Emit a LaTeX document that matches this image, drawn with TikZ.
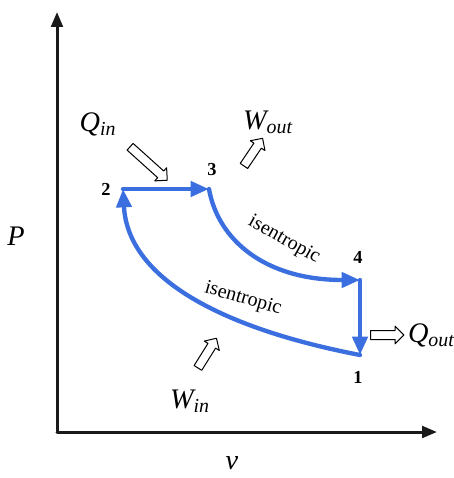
\documentclass[tikz,border=0pt]{standalone}
\usepackage{fontspec}
\setmainfont{Liberation Serif}
\usetikzlibrary{arrows.meta,shapes.arrows}
\definecolor{cycle}{HTML}{3b6fe0}
\definecolor{axisline}{HTML}{1a1a1a}
\newcommand{\qty}[2]{#1\textsubscript{#2}}

\begin{document}
\begin{tikzpicture}[
  x=0.6pt, y=-0.6pt,
  line cap=round, line join=round,
  every node/.style={inner sep=1pt},
  axis/.style={draw=axisline, line width=1.8pt, -{Triangle[length=9pt,width=7pt]}},
  process/.style={draw=cycle, line width=2.6pt, -{Triangle[length=11pt,width=9pt]}},
  state/.style={font=\bfseries\fontsize{11}{13}\selectfont},
  sym/.style={font=\itshape\fontsize{17}{20}\selectfont},
  isen/.style={font=\fontsize{12}{14}\selectfont},
  flow/.style={single arrow, draw=black, fill=white, line width=0.6pt,
    single arrow head extend=2.6pt, inner xsep=0pt, inner ysep=2.4pt},
]
\useasboundingbox[fill=white] (0,0) rectangle (453,478);
% axes
\coordinate (origin) at (57,432);
\coordinate (ytop) at (57,12);
\coordinate (xend) at (437,432);
\draw[axis] (origin) -- (ytop);
\draw[axis] (origin) -- (xend);
\node[sym] (plabel) at (16,236) {P};
\node[sym] (vlabel) at (232,463) {v};
% states
\coordinate (p1) at (360,355);
\coordinate (p2) at (123,189);
\coordinate (p3) at (209,189);
\coordinate (p4) at (360,280);
\node[state] (n1) at (358,377) {1};
\node[state] (n2) at (106,189) {2};
\node[state] (n3) at (212,170) {3};
\node[state] (n4) at (358,257) {4};
% cycle
\draw[process] (p2) -- (p3);
\draw[process] (p3) .. controls (218,240) and (265,280) .. (p4);
\draw[process] (p4) -- (p1);
\draw[process] (p1) .. controls (230,330) and (128,282) .. (p2);
\node[isen, rotate=-29] (isenup) at (284,240) {isentropic};
\node[isen, rotate=-16] (isenlow) at (243,299) {isentropic};
% heat and work
\node[flow, minimum height=30pt, rotate=-42] (qin) at (147,162) {};
\node[flow, minimum height=20pt, rotate=56] (wout) at (252,154) {};
\node[flow, minimum height=20pt, rotate=0] (qout) at (385,335) {};
\node[flow, minimum height=21pt, rotate=58] (win) at (206,355) {};
\node[sym] (qinlabel) at (98,124) {\qty{Q}{in}};
\node[sym] (woutlabel) at (268,122) {\qty{W}{out}};
\node[sym, anchor=west] (qoutlabel) at (406,335) {\qty{Q}{out}};
\node[sym] (winlabel) at (190,401) {\qty{W}{in}};
\end{tikzpicture}
\end{document}
